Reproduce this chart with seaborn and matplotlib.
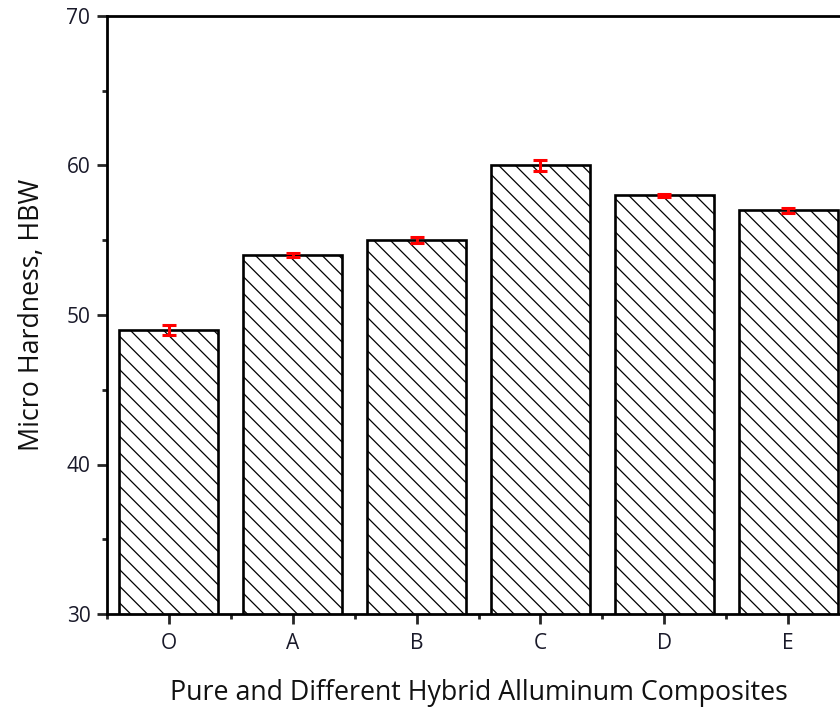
import numpy as np
import pandas as pd
import matplotlib
matplotlib.use("Agg")
import matplotlib.pyplot as plt
import seaborn as sns
from matplotlib.ticker import MultipleLocator

categories = ["O", "A", "B", "C", "D", "E"]
hardness = [49.0, 54.0, 55.0, 60.0, 58.0, 57.0]
errors = [0.33, 0.14, 0.2, 0.4, 0.12, 0.15]

sns.set_style("ticks")
plt.rcParams["font.family"] = ["Open Sans", "DejaVu Sans"]
plt.rcParams["hatch.linewidth"] = 0.9
plt.rcParams["hatch.color"] = "#222222"

fig = plt.figure(figsize=(8.4, 7.11), dpi=100)
ax = fig.add_axes([107/840, 1-614/711, (850-107)/840, (614-16)/711])

df = pd.DataFrame({"cat": categories, "val": hardness})
sns.barplot(data=df, x="cat", y="val", errorbar=None, color="white",
            edgecolor="black", linewidth=1.9, width=0.8, ax=ax)
for p in ax.patches:
    p.set_hatch("\\\\")
    p.set_facecolor("white")

ax.errorbar(np.arange(len(categories)), hardness, yerr=errors, fmt="none",
            ecolor="red", elinewidth=2.2, capsize=5, capthick=2.2, zorder=5)

ax.set_xlim(-0.5, 5.5)
ax.set_ylim(30, 70)
ax.yaxis.set_major_locator(MultipleLocator(10))
ax.yaxis.set_minor_locator(MultipleLocator(5))
ax.xaxis.set_minor_locator(MultipleLocator(1, offset=0.5))
for s in ax.spines.values():
    s.set_visible(True)
    s.set_linewidth(2)
    s.set_color("black")
ax.tick_params(axis="both", which="major", direction="out", length=7, width=2,
               labelsize=15, labelcolor="#1a1a2a", pad=5)
ax.tick_params(axis="x", which="major", pad=7)
ax.tick_params(axis="both", which="minor", direction="out", length=3.6, width=2)

ax.set_xlabel("Pure and Different Hybrid Alluminum Composites", fontsize=19.3,
              color="#111111", labelpad=18)
ax.set_ylabel("Micro Hardness, HBW", fontsize=19.3, color="#111111", labelpad=15)

fig.savefig("out.png", dpi=100)
